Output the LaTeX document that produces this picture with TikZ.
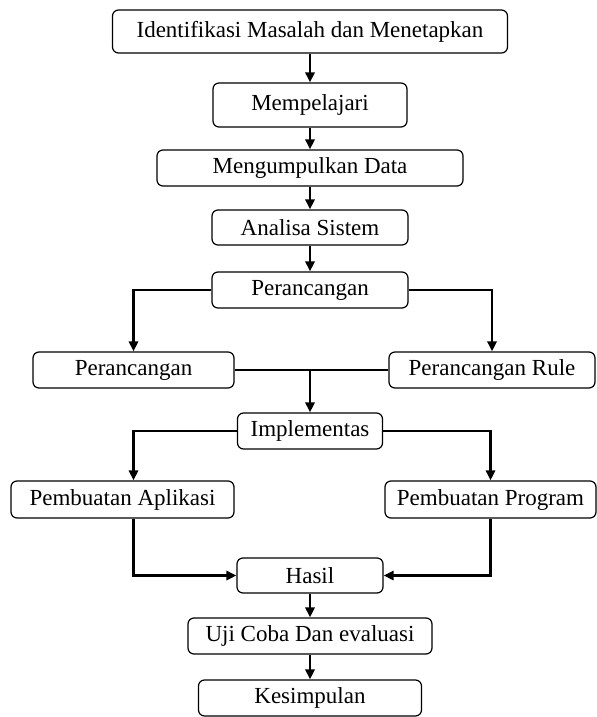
\documentclass[tikz,border=0pt]{standalone}
\usepackage{fontspec}
\setmainfont{Liberation Serif}
\usetikzlibrary{arrows.meta}

\begin{document}
\begin{tikzpicture}[
  x=0.5pt, y=-0.5pt,
  proc/.style 2 args={
    draw=black, fill=white, line width=0.6pt, rounded corners=3pt,
    minimum width=#1*0.5pt, minimum height=#2*0.5pt,
    inner sep=0pt, font=\fontsize{11.5}{13}\selectfont
  },
  link/.style={-{Triangle[length=5pt, width=4.6pt]}, line width=1.1pt},
  joinline/.style={-, line width=1.1pt},
]
  \useasboundingbox (0,0) rectangle (597,717);

  % main column
  \node[proc={395}{43}] (ident)    at (310,31.5) {Identifikasi Masalah dan Menetapkan};
  \node[proc={194}{44}] (pelajari) at (310,105)  {Mempelajari};
  \node[proc={306}{36}] (kumpul)   at (310,168)  {Mengumpulkan Data};
  \node[proc={196}{35}] (analisa)  at (310,227.5) {Analisa Sistem};
  \node[proc={196}{36}] (rancang)  at (310,290)  {Perancangan};

  % first branch
  \node[proc={201}{36}] (rancangL) at (133.5,370) {Perancangan};
  \node[proc={206}{36}] (rule)     at (492,370)   {Perancangan Rule};
  \node[proc={145}{36}] (impl)     at (310,431)   {Implementas};

  % second branch
  \node[proc={223}{37}] (aplikasi) at (122.5,499.5) {Pembuatan Aplikasi};
  \node[proc={211}{37}] (program)  at (490.5,499.5) {Pembuatan Program};
  \node[proc={146}{35}] (hasil)    at (310,575.5)   {Hasil};
  \node[proc={244}{36}] (uji)      at (310,636)     {Uji Coba Dan evaluasi};
  \node[proc={223}{36}] (simpul)   at (310,698)     {Kesimpulan};

  \draw[link] (ident)    -- (pelajari);
  \draw[link] (pelajari) -- (kumpul);
  \draw[link] (kumpul)   -- (analisa);
  \draw[link] (analisa)  -- (rancang);

  \draw[link] (rancang.west) -| (rancangL.north);
  \draw[link] (rancang.east) -| (rule.north);
  \draw[joinline] (rancangL.east) -- (rule.west);
  \draw[link] (rancangL.east -| impl.north) -- (impl.north);

  \draw[link] (impl.west) -| (aplikasi.north -| rancangL);
  \draw[link] (impl.east) -| (program.north);
  \draw[link] (aplikasi.south -| rancangL) |- (hasil.west);
  \draw[link] (program.south) |- (hasil.east);

  \draw[link] (hasil) -- (uji);
  \draw[link] (uji)   -- (simpul);
\end{tikzpicture}
\end{document}
